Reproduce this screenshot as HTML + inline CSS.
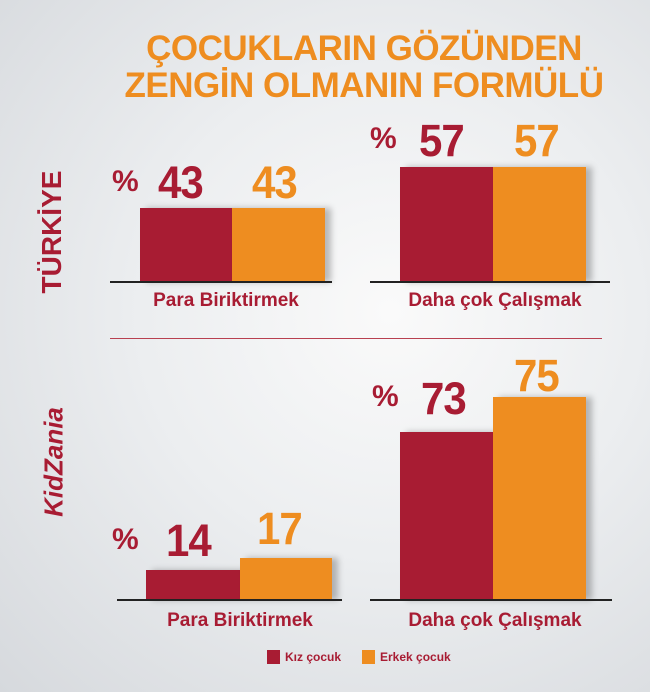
<!DOCTYPE html>
<html><head><meta charset="utf-8"><style>
body{margin:0}
#c{position:relative;width:650px;height:692px;overflow:hidden;font-family:"Liberation Sans","DejaVu Sans",sans-serif;font-weight:bold;
background:radial-gradient(ellipse at 60% 45%,#fafafa 0%,#eceef0 45%,#d6d9dd 100%);}
.a{position:absolute}
.r{background:#a81c33}.o{background:#ee8d20}
.t{color:#ee8d20;font-size:35px;white-space:nowrap;text-align:center;width:650px;left:39px;letter-spacing:-0.5px}
.n{font-size:42px;line-height:42px;letter-spacing:-1px;transform:scaleY(1.08)}
.p{font-size:30px;line-height:30px;color:#a81c33}
.rc{color:#a81c33}.oc{color:#ee8d20}
.base{height:2px;background:#222}
.lab{font-size:19px;color:#a81c33;text-align:center;width:240px}
.sh{box-shadow:6px 0 6px rgba(0,0,0,0.25)}
</style></head><body><div id="c">
<div class="a t" style="top:29px">ÇOCUKLARIN GÖZÜNDEN</div>
<div class="a t" style="top:66px">ZENGİN OLMANIN FORMÜLÜ</div>

<div class="a rc" style="left:52px;top:232px;transform:translate(-50%,-50%) rotate(-90deg);font-size:28px;white-space:nowrap">TÜRKİYE</div>
<div class="a" style="left:54px;top:462px;transform:translate(-50%,-50%) rotate(-90deg);font-size:26px;white-space:nowrap;font-style:italic;color:#a81c33"><span style="color:#a81c33">K</span>idZania</div>

<div class="a p" style="left:112px;top:167px">%</div>
<div class="a n rc" style="left:158px;top:162px">43</div>
<div class="a n oc" style="left:252px;top:162px">43</div>
<div class="a r sh" style="left:140px;top:208px;width:92px;height:74px"></div>
<div class="a o sh" style="left:232px;top:208px;width:93px;height:74px"></div>
<div class="a base" style="left:110px;top:281px;width:222px"></div>
<div class="a lab" style="left:106px;top:290px">Para Biriktirmek</div>

<div class="a p" style="left:370px;top:124px">%</div>
<div class="a n rc" style="left:419px;top:120px">57</div>
<div class="a n oc" style="left:514px;top:120px">57</div>
<div class="a r sh" style="left:400px;top:167px;width:93px;height:115px"></div>
<div class="a o sh" style="left:493px;top:167px;width:93px;height:115px"></div>
<div class="a base" style="left:370px;top:281px;width:240px"></div>
<div class="a lab" style="left:375px;top:290px">Daha çok Çalışmak</div>

<div class="a" style="left:110px;top:338px;width:492px;height:1px;background:#b84050"></div>

<div class="a p" style="left:112px;top:525px">%</div>
<div class="a n rc" style="left:166px;top:520px">14</div>
<div class="a n oc" style="left:257px;top:508px">17</div>
<div class="a r sh" style="left:146px;top:570px;width:94px;height:30px"></div>
<div class="a o sh" style="left:240px;top:558px;width:92px;height:42px"></div>
<div class="a base" style="left:117px;top:599px;width:225px"></div>
<div class="a lab" style="left:120px;top:610px">Para Biriktirmek</div>

<div class="a p" style="left:372px;top:382px">%</div>
<div class="a n rc" style="left:421px;top:378px">73</div>
<div class="a n oc" style="left:514px;top:355px">75</div>
<div class="a r sh" style="left:400px;top:432px;width:93px;height:168px"></div>
<div class="a o sh" style="left:493px;top:397px;width:93px;height:203px"></div>
<div class="a base" style="left:370px;top:599px;width:242px"></div>
<div class="a lab" style="left:375px;top:610px">Daha çok Çalışmak</div>

<div class="a r" style="left:267px;top:650px;width:13px;height:14px"></div>
<div class="a rc" style="left:285px;top:650px;font-size:12px">Kız çocuk</div>
<div class="a o" style="left:362px;top:650px;width:13px;height:14px"></div>
<div class="a rc" style="left:380px;top:650px;font-size:12px">Erkek çocuk</div>
</div></body></html>
